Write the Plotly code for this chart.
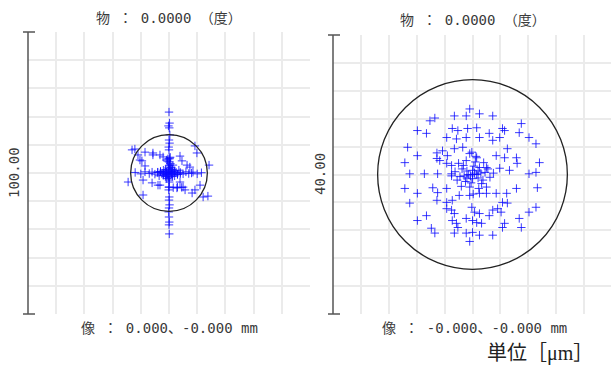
import plotly.graph_objects as go

W, H = 611, 365

# ---------------- data (micrometres) ----------------
left_title = "物 ： 0.0000 （度）"
left_image = "像 ： 0.000、-0.000 mm"
left_scale_label = "100.00"
left_scale = 100.0
left_airy = 13.6

right_title = "物 ： 0.0000 （度）"
right_image = "像 ： -0.000、-0.000 mm"
right_scale_label = "40.00"
right_scale = 40.0
right_airy = 13.6

unit_label = "単位［μm］"

# left spot: vertical column, horizontal band, scattered rays, dense core
left_x = [
    0.0, 0.2, -0.2, 0.1, 0.3, 0.0, 0.2, -0.1, 0.0, 0.1, 0.0, 0.2, -0.2, 0.0, 0.1, 0.0, -0.1, 0.1, 0.0, 0.2, 0.0, -0.1, 0.0, 0.1, 0.0, 0.1,
    -12.0, -10.0, -8.5, -7.0, -6.0, -5.0, -4.0, -3.0, -2.0, -1.0, 1.0, 2.0, 3.0, 4.0, 5.0, 6.0, 7.0, 8.5, 10.0, 11.5,
    -13.1, -12.1, -8.5, -11.0, -9.6, -5.7, -3.2, -2.1, 3.9, 4.6, 9.9, 9.2, 1.4, 6.4, 7.4, 14.2,
    -14.5, -9.2, -6.0, -3.2, 2.8, 5.0, 8.2, 9.2, 12.1, 13.8, -9.2, -5.7, -8.5, -10.3, -3.9, 11.0, 5.7, 3.9, 8.0,
    0.0, 0.5, -0.5, 1.0, -1.0, 1.0, -1.0, 0.3, -0.3, 1.5, -1.5, 0.0, 0.0, 2.0, -2.0, 2.0, -2.0, 0.8, -0.8,
    2.5, -2.5, 1.2, -1.2, 1.2, -1.2, 3.0, -3.0, 0.0, 0.0, 0.5, -0.5, 3.5, -3.5, 4.0, -4.0,
    -0.4, 0.3, -0.8, 0.0, 1.5, 3.0, 4.5, 0.4,
]
left_y = [
    21.6, 17.7, 16.7, 16.0, 13.5, 11.7, 10.6, 9.2, 8.2, 5.0, 3.9, 2.8, 1.8, -1.8, -3.2, -5.0, -6.0, -8.5, -9.6, -11.3, -12.4, -13.8, -15.6, -17.4, -18.4, -21.6,
    0.2, -0.3, 0.4, -0.2, 0.3, -0.4, 0.2, 0.5, -0.3, 0.2, -0.2, 0.3, -0.4, 0.2, -0.3, 0.4, -0.2, 0.3, -0.3, 0.1,
    8.2, 8.5, 7.4, 6.4, 4.3, 7.1, 6.4, 5.7, 6.0, 4.3, 7.1, 9.6, 2.8, 2.8, 2.1, 2.8,
    -3.2, -2.5, -3.5, -4.3, -5.3, -5.0, -7.1, -6.0, -8.5, -8.2, -7.8, 6.4, 2.5, 4.6, -4.3, -4.3, -6.0, -3.2, 0.0,
    0.0, 0.3, -0.3, 0.5, 0.5, -0.5, -0.5, 1.0, -1.0, 0.0, 0.0, 1.5, -1.5, 0.8, -0.8, -1.0, 1.0, 2.0, -2.0,
    0.3, -0.3, 1.2, -1.2, -1.2, 1.2, -0.5, 0.5, 2.5, -2.5, 3.3, 4.2, 1.0, -1.0, -0.3, 0.3,
    5.0, 5.3, 4.6, -5.0, -5.2, -5.0, -5.1, 5.6,
]

# right spot: diffuse disc with dense core
right_x = [
    -0.4, 1.0, -0.9, -2.6, -5.4, -6.1, 2.9, 7.0, 4.3, 4.6, -7.9, -6.6, -2.9, -2.1, -0.7, 0.6,
    -3.7, -2.3, -0.9, 1.0, 2.4, 2.9, 3.9, 6.7, 8.1, 9.1, -9.3, -7.9, -9.7, -5.1, -4.3, -3.6,
    -2.6, -1.4, -0.4, 0.6, 3.4, 4.6, 5.0, 6.3, 6.4, 9.6, -5.1, -4.7, -3.7, -3.0, -9.0, -6.9,
    -5.0, -3.0, 8.1, 9.1, 2.0, 3.9, 5.3, -9.7, -7.9, -5.7, -5.0, -3.7, -9.0, -6.6, -7.9, -5.9,
    -5.4, -5.1, -3.7, -2.9, -1.9, -0.4, 1.0, 2.0, -3.7, -3.0, -2.6, -2.9, -2.3, -2.1, -2.6, -0.9,
    0.0, 1.0, 2.9, -0.4, -0.9, 0.0, 0.6, 1.3, -0.1, 0.3, 1.0, 2.4, 2.9, 3.6, 4.1, 4.3,
    5.0, 4.6, 4.3, 3.4, 4.9, 6.3, 9.3, 8.1, 9.1, 6.7, 7.0,
    0.0, 0.3, -0.3, 0.6, -0.6, 0.0, 0.0, 0.8, -0.8, 0.8, -0.8, 1.2, -1.2, 0.2, -0.2, 1.5, -1.5,
    1.0, -1.0, 1.8, -1.8, 0.4, -0.4, 1.3, -1.3, 2.2, -2.2, 0.9, -0.9, 2.5, -2.5, 0.5, 1.6, -1.6,
    2.0, -2.0, 0.1, -0.1, 3.0, -3.0,
]
right_y = [
    9.4, 8.7, 8.4, 8.4, 8.1, 7.7, 8.4, 7.3, 6.6, 6.3, 6.3, 5.9, 6.6, 6.3, 6.6, 6.7,
    5.3, 5.1, 5.3, 5.3, 5.9, 4.9, 5.3, 6.0, 5.3, 4.4, 3.9, 2.7, 1.7, 3.1, 3.4, 2.7,
    3.7, 3.9, 3.0, 2.4, 2.7, 2.4, 3.7, 2.4, 1.6, 1.7, 2.3, 2.0, 1.6, 1.3, 0.1, 0.1,
    0.1, 0.1, 0.1, 0.3, 1.0, 0.9, 0.6, -2.0, -2.7, -1.9, -2.6, -2.0, -4.1, -5.9, -6.6, -7.7,
    -8.4, -3.7, -4.0, -3.7, -3.0, -3.0, -2.7, -2.7, -4.9, -5.1, -5.6, -6.6, -7.0, -7.6, -8.4, -8.4,
    -8.3, -8.7, -8.7, -9.6, -6.3, -6.6, -6.9, -7.0, -4.7, -5.4, -5.6, -5.9, -5.1, -4.9, -5.4, -4.0,
    -4.1, -7.0, -7.6, -2.7, -2.7, -2.0, -1.9, -5.4, -4.7, -6.3, -7.6,
    0.0, 0.2, -0.2, 0.0, 0.0, 0.6, -0.6, 0.5, -0.5, -0.5, 0.5, 0.2, -0.2, 1.2, -1.2, -0.8, 0.8,
    1.0, -1.0, 0.3, -0.3, 1.8, -1.8, -1.3, 1.3, 0.8, -0.8, -2.0, 2.0, -0.4, 0.4, 2.6, 1.7, -1.7,
    -1.8, 1.6, -2.8, 3.2, 0.2, -0.2,
]

# ---------------- layout geometry (pixels) ----------------
L = dict(x0=28, x1=310, y0=32, y1=314)
R = dict(x0=333, x1=611, y0=35, y1=314)
r_px_per_um = (R["y1"] - R["y0"]) / right_scale
r_xmin = -right_scale / 2
r_xmax = r_xmin + (R["x1"] - R["x0"]) / r_px_per_um

def px(x):
    return x / W

def py(y):
    return 1 - y / H

fig = go.Figure()

marker = dict(symbol="cross-thin", size=6, line=dict(width=1, color="rgba(10,10,255,0.8)"))

fig.add_trace(go.Scatter(x=left_x, y=left_y, mode="markers", marker=marker,
                         xaxis="x", yaxis="y", showlegend=False, hoverinfo="skip"))
fig.add_trace(go.Scatter(x=right_x, y=right_y, mode="markers", marker=marker,
                         xaxis="x2", yaxis="y2", showlegend=False, hoverinfo="skip"))

grid = dict(showgrid=True, gridcolor="#ebebeb", gridwidth=1.5, zeroline=False,
            showticklabels=False, ticks="", showline=False, fixedrange=True)

fig.update_layout(
    width=W, height=H,
    margin=dict(l=0, r=0, t=0, b=0),
    paper_bgcolor="white", plot_bgcolor="white",
    xaxis=dict(domain=[px(L["x0"]), px(L["x1"])], range=[-left_scale / 2, left_scale / 2],
               dtick=left_scale / 10, tick0=0, anchor="y", **grid),
    yaxis=dict(domain=[py(L["y1"]), py(L["y0"])], range=[-left_scale / 2, left_scale / 2],
               dtick=left_scale / 10, tick0=0, anchor="x", **grid),
    xaxis2=dict(domain=[px(R["x0"]), px(R["x1"])], range=[r_xmin, r_xmax],
                dtick=right_scale / 10, tick0=0, anchor="y2", **grid),
    yaxis2=dict(domain=[py(R["y1"]), py(R["y0"])], range=[-right_scale / 2, right_scale / 2],
                dtick=right_scale / 10, tick0=0, anchor="x2", **grid),
)

# Airy circles
fig.add_shape(type="circle", xref="x", yref="y", x0=-left_airy, x1=left_airy,
              y0=-left_airy, y1=left_airy, line=dict(color="#222", width=1.3))
fig.add_shape(type="circle", xref="x2", yref="y2", x0=-right_airy, x1=right_airy,
              y0=-right_airy, y1=right_airy, line=dict(color="#222", width=1.3))

# scale bars with caps
axcol = "#555555"
for P in (L, R):
    fig.add_shape(type="line", xref="paper", yref="paper", x0=px(P["x0"]), x1=px(P["x0"]),
                  y0=py(P["y0"]), y1=py(P["y1"]), line=dict(color=axcol, width=1.5))
    for yy in (P["y0"], P["y1"]):
        fig.add_shape(type="line", xref="paper", yref="paper", x0=px(P["x0"] - 5), x1=px(P["x0"] + 7),
                      y0=py(yy), y1=py(yy), line=dict(color=axcol, width=1.5))

tfont = dict(family="DejaVu Sans Mono, Noto Sans CJK JP", size=14, color="#3a3a3a")

def ann(text, x, y, font, angle=0):
    fig.add_annotation(text=text, x=px(x), y=py(y), xref="paper", yref="paper",
                       showarrow=False, xanchor="center", yanchor="middle",
                       font=font, textangle=angle)

ann(left_title, 169, 18, tfont)
ann(right_title, 473, 20, tfont)
ann(left_image, 169, 328, tfont)
ann(right_image, 474, 328, tfont)
ann(left_scale_label, 14, 173, tfont, -90)
ann(right_scale_label, 320, 174, tfont, -90)
ann(unit_label, 540, 353, dict(family="Liberation Serif, Noto Sans CJK JP", size=20, color="#222"))

fig.write_html("out.html", config={"displayModeBar": False},
               post_script="document.body.style.margin='0';document.body.style.overflow='hidden';")
